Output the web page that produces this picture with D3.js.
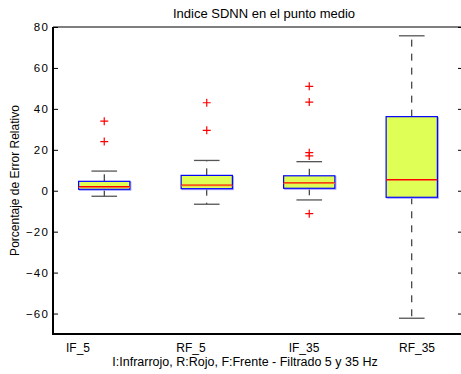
<!DOCTYPE html>
<html>
<head>
<meta charset="utf-8">
<script src="https://cdn.jsdelivr.net/npm/d3@7"></script>
<style>
  html, body { margin: 0; padding: 0; background: #fff; }
  svg { display: block; font-family: "Liberation Sans", Arial, sans-serif; }
</style>
</head>
<body>
<svg id="chart" width="461" height="374"></svg>
<script>
// Box summary per signal group (percent relative error)
const categories = ["IF_5", "RF_5", "IF_35", "RF_35"];
const q1 = [0.7, 1.0, 1.2, -3.2];
const medians = [2.0, 2.8, 3.9, 5.4];
const q3 = [4.6, 7.5, 7.3, 36.2];
const whiskerLow = [-2.7, -6.6, -4.5, -62.3];
const whiskerHigh = [9.6, 14.8, 14.2, 75.7];
const outliers = [
  [34.0, 24.0],
  [43.0, 29.5],
  [51.0, 43.3, 18.6, 17.0, -11.2],
  []
];
const yTicks = [-60, -40, -20, 0, 20, 40, 60, 80];

const titleText = "Indice SDNN en el punto medio";
const xLabelText = "I:Infrarrojo, R:Rojo, F:Frente - Filtrado 5 y 35 Hz";
const yLabelText = "Porcentaje de Error Relativo";

const svg = d3.select("#chart");
const plot = { left: 53, right: 463, top: 27, bottom: 334 };

const x = d3.scaleLinear().domain([0.5, categories.length + 0.5]).range([plot.left, plot.right]);
const y = d3.scaleLinear().domain([-70, 80]).range([plot.bottom, plot.top]);
// category labels sit on their own, slightly wider spacing
const xLabelPos = d3.scalePoint().domain(categories).range([78, 417]);

const boxHalf = 0.25;   // box half-width in category units
const capHalf = 0.125;  // whisker cap half-width

const rows = categories.map((c, i) => ({
  cat: c, pos: i + 1, q1: q1[i], med: medians[i], q3: q3[i],
  lo: whiskerLow[i], hi: whiskerHigh[i], out: outliers[i]
}));

// Whiskers (dashed) from box edges to caps
const g = svg.append("g");
rows.forEach(d => {
  const cx = x(d.pos);
  g.append("line").attr("x1", cx).attr("x2", cx)
    .attr("y1", y(d.q3)).attr("y2", y(d.hi))
    .attr("stroke", "#111").attr("stroke-width", 1).attr("stroke-dasharray", "7,7");
  g.append("line").attr("x1", cx).attr("x2", cx)
    .attr("y1", y(d.q1)).attr("y2", y(d.lo))
    .attr("stroke", "#111").attr("stroke-width", 1).attr("stroke-dasharray", "7,7");
  [d.hi, d.lo].forEach(v => {
    g.append("line")
      .attr("x1", x(d.pos - capHalf)).attr("x2", x(d.pos + capHalf))
      .attr("y1", y(v)).attr("y2", y(v))
      .attr("stroke", "#555").attr("stroke-width", 1.3);
  });
});

// Boxes
rows.forEach(d => {
  const x0 = x(d.pos - boxHalf), x1 = x(d.pos + boxHalf);
  const top = y(d.q3), bot = y(d.q1);
  g.append("rect")
    .attr("x", x0 + 1).attr("y", top + 1)
    .attr("width", x1 - x0).attr("height", bot - top)
    .attr("fill", "none").attr("stroke", "#a0a0ff").attr("stroke-width", 1);
  g.append("rect")
    .attr("x", x0).attr("y", top)
    .attr("width", x1 - x0).attr("height", bot - top)
    .attr("fill", "#dfff57").attr("stroke", "#0000ff").attr("stroke-width", 1.2);
  const small = (bot - top) < 20;
  if (small) {
    g.append("line")
      .attr("x1", x0).attr("x2", x1)
      .attr("y1", y(d.med) + 0.8).attr("y2", y(d.med) + 0.8)
      .attr("stroke", "#f0a030").attr("stroke-width", 1);
  }
  g.append("line")
    .attr("x1", x0).attr("x2", x1)
    .attr("y1", y(d.med)).attr("y2", y(d.med))
    .attr("stroke", "#ff0000").attr("stroke-width", small ? 1.2 : 1.4);
});

// Outlier markers
rows.forEach(d => {
  d.out.forEach(v => {
    const cx = x(d.pos), cy = y(v);
    g.append("path")
      .attr("d", `M${cx - 4},${cy}H${cx + 4}M${cx},${cy - 4}V${cy + 4}`)
      .attr("stroke", "#ff0000").attr("stroke-width", 1.2).attr("fill", "none");
  });
});

// Axes
const yAxis = d3.axisLeft(y).tickValues(yTicks).tickSizeInner(-5).tickSizeOuter(0).tickPadding(4);
const ya = svg.append("g").attr("transform", `translate(${plot.left},0)`).call(yAxis);
ya.select(".domain").remove();
ya.selectAll(".tick line").attr("stroke", "#000");
ya.selectAll(".tick text")
  .attr("fill", "#000")
  .style("font-size", "11.5px")
  .style("letter-spacing", "1.2px");

const yAxisR = d3.axisRight(y).tickValues(yTicks).tickSizeInner(-5).tickSizeOuter(0).tickFormat("");
const yr = svg.append("g").attr("transform", `translate(${plot.right},0)`).call(yAxisR);
yr.select(".domain").remove();
yr.selectAll(".tick line").attr("stroke", "#000");

// Frame
svg.append("line").attr("x1", plot.left).attr("x2", plot.right)
  .attr("y1", plot.top).attr("y2", plot.top).attr("stroke", "#000").attr("stroke-width", 1.2);
svg.append("line").attr("x1", plot.left).attr("x2", plot.right)
  .attr("y1", plot.bottom).attr("y2", plot.bottom).attr("stroke", "#000").attr("stroke-width", 2);
svg.append("line").attr("x1", plot.left).attr("x2", plot.left)
  .attr("y1", plot.top).attr("y2", plot.bottom + 1).attr("stroke", "#000").attr("stroke-width", 2);

// Category labels
svg.append("g").selectAll("text").data(categories).join("text")
  .attr("x", d => xLabelPos(d)).attr("y", 352)
  .attr("text-anchor", "middle")
  .style("font-size", "12px").attr("fill", "#000")
  .text(d => d);

// Titles
svg.append("text").attr("x", 264).attr("y", 18)
  .attr("text-anchor", "middle").style("font-size", "13px").attr("fill", "#000")
  .text(titleText);
svg.append("text").attr("x", 245).attr("y", 366)
  .attr("text-anchor", "middle").style("font-size", "12.5px").attr("fill", "#000")
  .text(xLabelText);
svg.append("text")
  .attr("transform", "translate(19,180.5) rotate(-90)")
  .attr("text-anchor", "middle").style("font-size", "12px").attr("fill", "#000")
  .text(yLabelText);
</script>
</body>
</html>
